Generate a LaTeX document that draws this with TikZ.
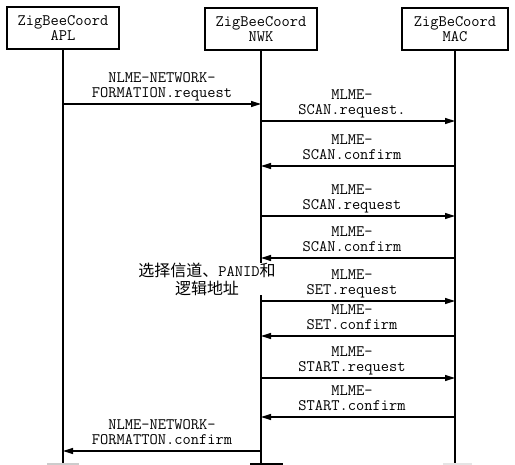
\documentclass[tikz,border=0pt]{standalone}
\usepackage{fontspec}
\newfontfamily\cjk{Noto Sans CJK SC}
\usetikzlibrary{arrows.meta}

\begin{document}
\begin{tikzpicture}[x=1pt, y=-1pt,
    layer/.style={draw, line width=1.3pt, minimum width=112pt, minimum height=42pt,
        inner sep=0pt, align=center, font=\ttfamily\fontsize{16}{15}\selectfont},
    life/.style={line width=1.2pt},
    msg/.style={line width=1.3pt, -{Triangle[length=10pt,width=6pt]}},
    lbl/.style={midway, above=0pt, inner sep=2pt, text depth=4pt, align=center,
        font=\ttfamily\fontsize{16}{15}\selectfont},
    mlbl/.style={lbl, xshift=-6pt}]
    \useasboundingbox (0,0) rectangle (515,465);
    % layer boxes
    \node[layer] (apl) at (63,28) {ZigBeeCoord\\APL};
    \node[layer] (nwk) at (261,29) {ZigBeeCoord\\NWK};
    \node[layer, minimum width=106pt] (mac) at (455,29) {ZigBeCoord\\MAC};
    % lifelines
    \coordinate (end) at (0,465);
    \foreach \l in {apl, nwk, mac}
        \draw[life] (\l) -- (\l |- end);
    % message rows
    \foreach \n/\y in {1/104, 2/121, 3/166, 4/216, 5/258, 6/301, 7/336, 8/378, 9/417, 10/451}
        \coordinate (r\n) at (0,\y);
    \draw[msg] (apl |- r1) -- (nwk |- r1) node[lbl] {NLME-NETWORK-\\FORMATION.request};
    \draw[msg] (nwk |- r2) -- (mac |- r2) node[mlbl] {MLME-\\SCAN.request.};
    \draw[msg] (mac |- r3) -- (nwk |- r3) node[mlbl] {MLME-\\SCAN.confirm};
    \draw[msg] (nwk |- r4) -- (mac |- r4) node[mlbl] {MLME-\\SCAN.request};
    \draw[msg] (mac |- r5) -- (nwk |- r5) node[mlbl] {MLME-\\SCAN.confirm};
    \draw[msg] (nwk |- r6) -- (mac |- r6) node[mlbl] {MLME-\\SET.request};
    \draw[msg] (mac |- r7) -- (nwk |- r7) node[mlbl] {MLME-\\SET.confirm};
    \draw[msg] (nwk |- r8) -- (mac |- r8) node[mlbl] {MLME-\\START.request};
    \draw[msg] (mac |- r9) -- (nwk |- r9) node[mlbl] {MLME-\\START.confirm};
    \draw[msg] (nwk |- r10) -- (apl |- r10) node[lbl] {NLME-NETWORK-\\FORMATTON.confirm};
    % note over the NWK lifeline
    \node[fill=white, inner sep=0pt, align=center, font=\ttfamily\fontsize{16}{18}\selectfont]
        (note) at (207,279) {{\cjk 选择信道、}PANID{\cjk 和}\\{\cjk 逻辑地址}};
    % stubs at the bottom edge
    \draw[line width=2pt, black!20] ([xshift=-16pt, yshift=1pt]apl |- end) -- ([xshift=16pt, yshift=1pt]apl |- end);
    \draw[line width=2.5pt] ([xshift=-11pt, yshift=1pt]nwk |- end) -- ([xshift=22pt, yshift=1pt]nwk |- end);
    \draw[line width=2pt, black!10] ([xshift=-12pt, yshift=1pt]mac |- end) -- ([xshift=17pt, yshift=1pt]mac |- end);
\end{tikzpicture}
\end{document}
